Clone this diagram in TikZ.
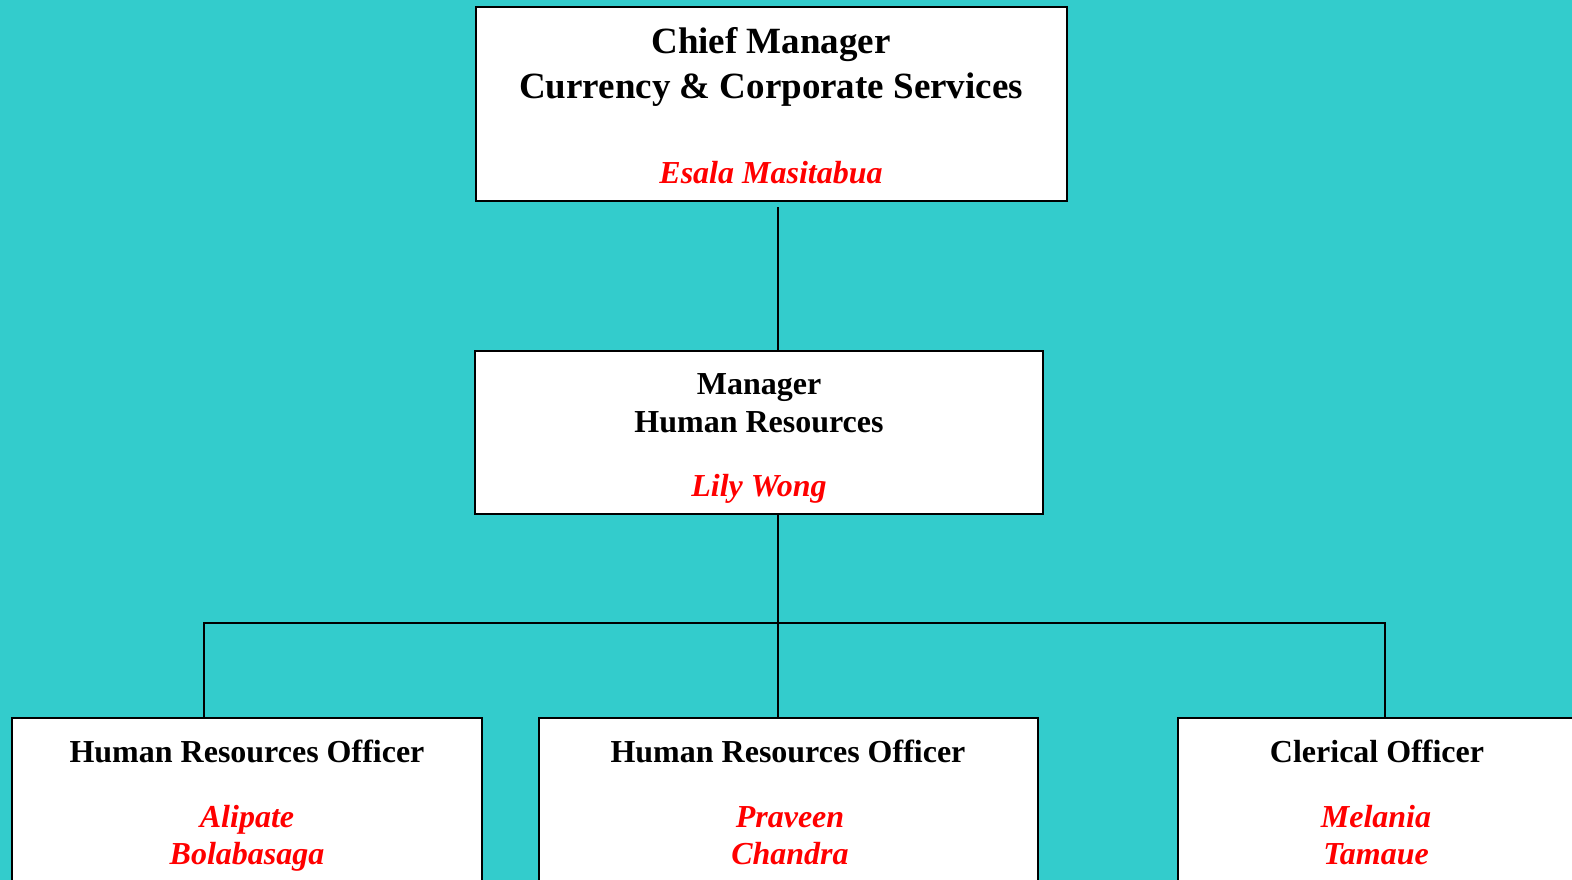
\documentclass[tikz,border=0pt]{standalone}
\usepackage{fontspec}
\setmainfont{Liberation Serif}
\usetikzlibrary{positioning}
\definecolor{teal bg}{HTML}{33CCCC}
\tikzset{
    box/.style={draw, line width=2.5pt, fill=white, inner sep=0pt, outer sep=0pt, anchor=north west}, % post boxes
    post/.style={align=center, anchor=base, font=\bfseries\fontsize{32}{38}\selectfont}, % job titles (base = last line)
    who/.style={post, text=red, font=\bfseries\itshape\fontsize{32}{37}\selectfont}, % names in red
    link/.style={line width=2pt}, % connectors
}
\begin{document}
\begin{tikzpicture}[x=1pt, y=-1pt]
    \useasboundingbox[fill=teal bg] (0,0) rectangle (1572,880);
    \clip (0,0) rectangle (1572,880);
    % boxes
    \node[box, minimum width=591pt, minimum height=194pt] (chief) at (476,7) {};
    \node[box, minimum width=568pt, minimum height=163pt] (mgr) at (475,351) {};
    \node[box, minimum width=470pt, minimum height=220pt] (hro1) at (12,718) {};
    \node[box, minimum width=499pt, minimum height=220pt] (hro2) at (539,718) {};
    \node[box, minimum width=420pt, minimum height=220pt] (clerk) at (1178,718) {};
    % texts
    \node[post, font=\bfseries\fontsize{37}{45}\selectfont] (chieftitle) at (771,99) {Chief Manager\\Currency \& Corporate Services};
    \node[who] (chiefname) at (771,183) {Esala Masitabua};
    \node[post] (mgrtitle) at (759,432) {Manager\\Human Resources};
    \node[who] (mgrname) at (759,496) {Lily Wong};
    \node[post] (hro1title) at (247,762) {Human Resources Officer};
    \node[who] (hro1name) at (247,864) {Alipate\\Bolabasaga};
    \node[post] (hro2title) at (788,762) {Human Resources Officer};
    \node[who] (hro2name) at (790,864) {Praveen\\Chandra};
    \node[post] (clerktitle) at (1377,762) {Clerical Officer};
    \node[who] (clerkname) at (1376,864) {Melania\\Tamaue};
    % connectors
    \coordinate (bus) at (778,623);
    \coordinate (drop1) at (204,623);
    \coordinate (drop3) at (1385,623);
    \draw[link] ([yshift=-6pt]chief.south -| bus) -- (mgr.north -| bus);
    \draw[link] (mgr.south -| bus) -- (bus |- hro2.north);
    \draw[link] (drop1 |- hro1.north) -- (drop1) -- (drop3) -- (drop3 |- clerk.north);
\end{tikzpicture}
\end{document}
